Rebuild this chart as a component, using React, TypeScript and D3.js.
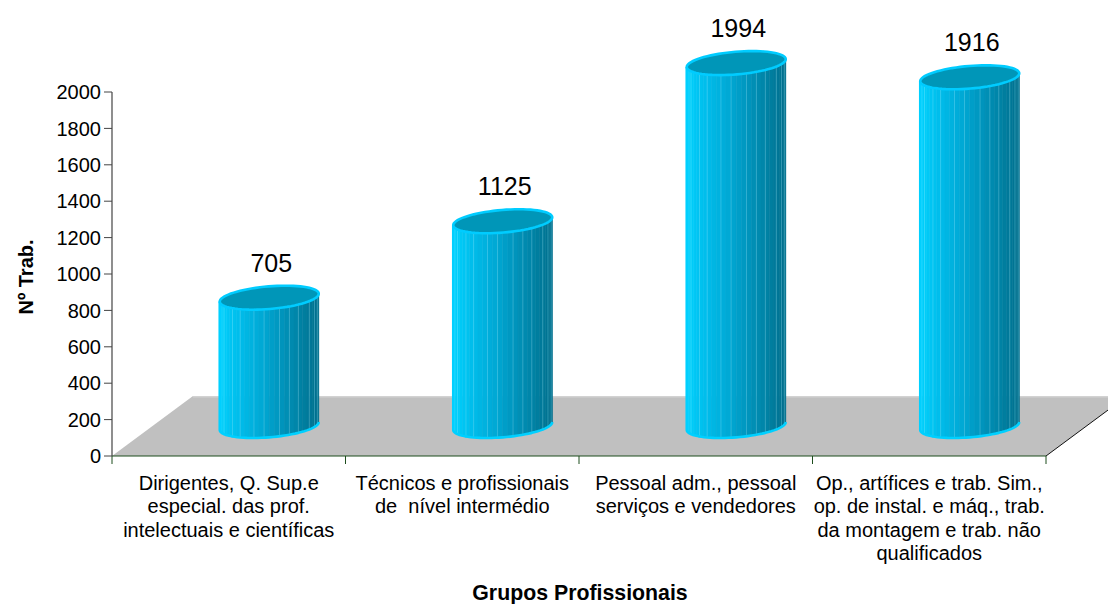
import React from 'react';
import * as d3 from 'd3';

const categories: string[][] = [
  ['Dirigentes, Q. Sup.e', 'especial. das prof.', 'intelectuais e científicas'],
  ['Técnicos e profissionais', 'de  nível intermédio'],
  ['Pessoal adm., pessoal', 'serviços e vendedores'],
  ['Op., artífices e trab. Sim.,', 'op. de instal. e máq., trab.', 'da montagem e trab. não', 'qualificados'],
];
const values: number[] = [705, 1125, 1994, 1916];
const yTicks: number[] = [0, 200, 400, 600, 800, 1000, 1200, 1400, 1600, 1800, 2000];
const yTitle = 'Nº Trab.';
const xTitle = 'Grupos Profissionais';

const W = 1108;
const H = 604;
const FONT = '"Liberation Sans", Arial, Helvetica, sans-serif';

export default function App() {
  const x0 = 112, x1 = 1046;
  const DX = 81, DY = 60;
  const y = d3.scaleLinear().domain([0, 2000]).range([456, 92]);
  const keys = categories.map((_, i) => String(i));
  const x = d3.scaleBand<string>().domain(keys).range([x0, x1]).padding(0);
  const bw = x.bandwidth();
  const yF = y(0);

  const R = 49.5, c = 12, b = 12 * DX / DY, a = Math.sqrt(R * R - b * b);
  const phi = Math.atan2(b, a);
  const shade = d3.scaleLinear<string>().domain([0, 0.12, 0.45, 1])
    .range(['#00d4ff', '#00c4f2', '#00a6d2', '#006f8d']);

  const pt = (cx: number, cy: number, t: number): [number, number] =>
    [cx + a * Math.cos(t) + b * Math.sin(t), cy - c * Math.sin(t)];

  const N = 30;
  const line = d3.line();
  const stripeIdx = [2, 4, 7, 9, 12, 14, 17, 19, 21, 24, 26, 28];

  const floor: [number, number][] = [[x0, yF], [x1, yF], [x1 + DX, yF - DY], [x0 + DX, yF - DY]];

  return (
    <svg width={W} height={H} style={{ position: 'absolute', left: 0, top: 0, background: '#fff' }} fontFamily={FONT}>
      {/* floor */}
      <path d={line(floor) + 'Z'} fill="#c0c0c0" />
      <line x1={x0 + DX} x2={x1 + DX} y1={yF - DY + 0.8} y2={yF - DY + 0.8} stroke="#d2d2d2" strokeWidth={1.6} />
      <line x1={x1} y1={yF} x2={x1 + DX} y2={yF - DY} stroke="#111" strokeWidth={1} />
      {/* front edge */}
      <line x1={x0} x2={x1} y1={yF} y2={yF} stroke="#1d4d1d" strokeWidth={1.2} />
      {keys.concat(['end']).map((k, i) => {
        const xx = i < keys.length ? (x(k) as number) : x1;
        return <line key={'xt' + i} x1={xx} x2={xx} y1={yF} y2={yF + 8} stroke="#1d4d1d" strokeWidth={1} />;
      })}
      {/* y axis */}
      <line x1={x0} x2={x0} y1={y(2000)} y2={yF} stroke="#444" strokeWidth={1.2} />
      {yTicks.map((t) => (
        <g key={'yt' + t}>
          <line x1={x0 - 8} x2={x0} y1={y(t)} y2={y(t)} stroke="#444" strokeWidth={1} />
          <text x={x0 - 11} y={y(t)} dy="0.36em" textAnchor="end" fontSize={20} fill="#000">{t}</text>
        </g>
      ))}
      {/* cylinders */}
      {values.map((v, i) => {
        const cx = (x(keys[i]) as number) + bw / 2 + DX / 2;
        const cyB = yF - DY / 2;
        const cyT = y(v) - DY / 2;
        const tL = phi - Math.PI, tR = phi;
        const facets = [] as React.ReactNode[];
        const stripes = [] as React.ReactNode[];
        for (let j = 0; j < N; j++) {
          const ta = tL + (tR - tL) * j / N;
          const tb = tL + (tR - tL) * (j + 1) / N;
          const pa = pt(cx, cyT, ta), pb = pt(cx, cyT, tb);
          const qa = pt(cx, cyB, ta), qb = pt(cx, cyB, tb);
          const mid = (pa[0] + pb[0]) / 2;
          const f = (mid - (cx - R)) / (2 * R);
          const col = shade(f);
          facets.push(<path key={'f' + j} d={line([pa, pb, qb, qa]) + 'Z'} fill={col} stroke={col} strokeWidth={0.6} />);
          if (stripeIdx.includes(j)) {
            stripes.push(<line key={'s' + j} x1={pa[0]} x2={qa[0]} y1={pa[1]} y2={qa[1]} stroke="#9eeaff" strokeOpacity={0.35} strokeWidth={0.8} />);
          }
        }
        const arc: [number, number][] = d3.range(0, 41).map((k) => pt(cx, cyB, tL + (tR - tL) * k / 40));
        const outline: [number, number][] = [pt(cx, cyT, tL), ...arc];
        const top: [number, number][] = d3.range(0, 73).map((k) => pt(cx, cyT, (2 * Math.PI * k) / 72));
        return (
          <g key={'c' + i}>
            {facets}
            {stripes}
            <path d={line(outline) as string} fill="none" stroke="#00d0ff" strokeWidth={2.6} strokeLinejoin="round" />
            <path d={line(top) + 'Z'} fill="#0096b8" stroke="#00ccff" strokeWidth={2.6} />
            <text x={cx + 2} y={cyT - c - 14} textAnchor="middle" fontSize={25} fill="#000">{v}</text>
          </g>
        );
      })}
      {/* category labels */}
      {categories.map((lines, i) => {
        const cx = (x(keys[i]) as number) + bw / 2;
        return (
          <text key={'cl' + i} x={cx} y={490} textAnchor="middle" fontSize={20} fill="#000" style={{ whiteSpace: 'pre' }}>
            {lines.map((l, k) => (
              <tspan key={k} x={cx} y={490 + k * 23.3}>{l}</tspan>
            ))}
          </text>
        );
      })}
      {/* titles */}
      <text x={580} y={600} textAnchor="middle" fontSize={21.3} fontWeight="bold" fill="#000">{xTitle}</text>
      <text transform="translate(33,277) rotate(-90)" textAnchor="middle" fontSize={20} fontWeight="bold" fill="#000">{yTitle}</text>
    </svg>
  );
}
